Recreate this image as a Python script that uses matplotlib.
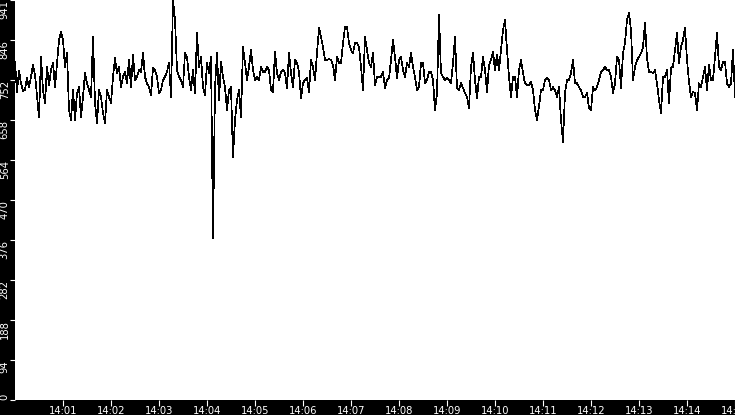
import numpy as np
import pandas as pd
import matplotlib
matplotlib.use("Agg")
import matplotlib.pyplot as plt
import matplotlib.dates as mdates

# Load data (one reading every 2.5 s from 14:00:00 to 14:15:00)
values = [
    795, 725, 775, 745, 726, 730, 757, 736, 760, 788,
    765, 715, 666, 807, 729, 699, 784, 740, 776, 793,
    736, 793, 847, 866, 847, 784, 816, 682, 659, 729,
    659, 722, 736, 666, 713, 769, 745, 729, 713, 854,
    699, 651, 729, 713, 675, 651, 729, 713, 699, 760,
    804, 769, 784, 736, 760, 772, 745, 800, 736, 812,
    753,
    760, 776, 772, 816, 760, 745, 736, 718, 781, 776,
    760, 722, 729, 753, 760, 772, 793, 713, 941, 894,
    776, 760, 753, 736, 816, 807, 760, 729, 776, 722,
    863, 784, 807, 736, 718, 793, 769, 807, 381, 736,
    816, 706, 795, 760, 736, 682, 729, 736, 572, 659,
    706, 729, 666, 830, 793, 753, 784, 823, 776, 753,
    760, 753, 784, 772, 772, 784, 776, 729, 725, 819,
    769, 753, 772, 776, 770, 734, 816, 769, 736, 800,
    793, 772, 710, 745, 753, 757, 725, 800, 784, 753,
    816, 875, 854, 830, 800, 800, 802, 800, 788, 753,
    807, 793, 793, 840, 878, 878, 840, 823, 816, 840,
    840, 830, 784, 729, 854, 823, 793, 784, 816, 741,
    760, 760, 760, 772, 734, 753, 757, 800, 847, 807,
    757, 800, 807, 776, 760, 793, 784, 816, 784, 760,
    729, 736, 793, 793, 745, 753, 772, 772, 753, 682,
    722, 906, 769, 760, 753, 757, 753, 745, 793, 854,
    734, 729, 745, 734, 722, 713, 687, 784, 816, 753,
    710, 760, 760, 807, 776, 725, 788, 800, 819, 776,
    812, 776, 823, 870, 894, 823, 760, 713, 760, 760,
    713, 776, 800, 769, 745, 741, 741, 748, 729, 682,
    659, 690, 729, 729, 753, 757, 753, 729, 736, 729,
    713, 736, 659, 607, 722, 753, 753, 769, 800, 745,
    745, 736, 729, 713, 713, 722, 687, 682, 736, 729,
    736, 753, 772, 776, 784, 776, 776, 760, 722, 745,
    807, 800, 734, 816, 840, 894, 910, 870, 753, 784,
    800, 807, 816, 830, 887, 804, 772, 772, 769, 776,
    745, 706, 675, 760, 760, 776, 699, 781, 784, 823,
    863, 793, 830, 847, 875, 800, 748, 713, 725, 722,
    682, 745, 736, 760, 784, 729, 788, 753, 753, 807,
    863, 784, 776, 795, 795, 745, 736, 745, 823, 713,
]
times = pd.date_range("2024-01-01 14:00:00", periods=len(values), freq="2500ms")
ylabels = ["0", "94", "188", "282", "376", "470", "564", "658", "752", "846", "941"]
ymax = 941

# Plot
fig = plt.figure(figsize=(7.35, 4.15), dpi=100, facecolor="black")
ax = fig.add_axes([15/735, 15/415, 720/735, 400/415])
ax.set_facecolor("white")
ax.plot(times, values, color="black", lw=0.5, antialiased=False)

ax.set_xlim(times[0], times[-1])
ax.set_ylim(0, ymax)
for s in ax.spines.values():
    s.set_visible(False)

xt = pd.date_range("2024-01-01 14:01:00", "2024-01-01 14:15:00", freq="1min")
ax.set_xticks(xt)
ax.xaxis.set_major_formatter(mdates.DateFormatter("%H:%M"))
ax.set_yticks(np.linspace(0, ymax, len(ylabels)), ylabels)

ax.tick_params(axis="both", colors="white", labelcolor="white", labelsize=7.2,
               length=4.3, width=0.8, direction="out")
ax.tick_params(axis="x", pad=0.3)
ax.tick_params(axis="y", pad=0.2, length=3.6)
for lab in ax.get_yticklabels():
    lab.set_rotation(90)
    lab.set_verticalalignment("top")
ax.get_yticklabels()[0].set_verticalalignment("bottom")

fig.savefig("out.png", dpi=100, facecolor="black")
